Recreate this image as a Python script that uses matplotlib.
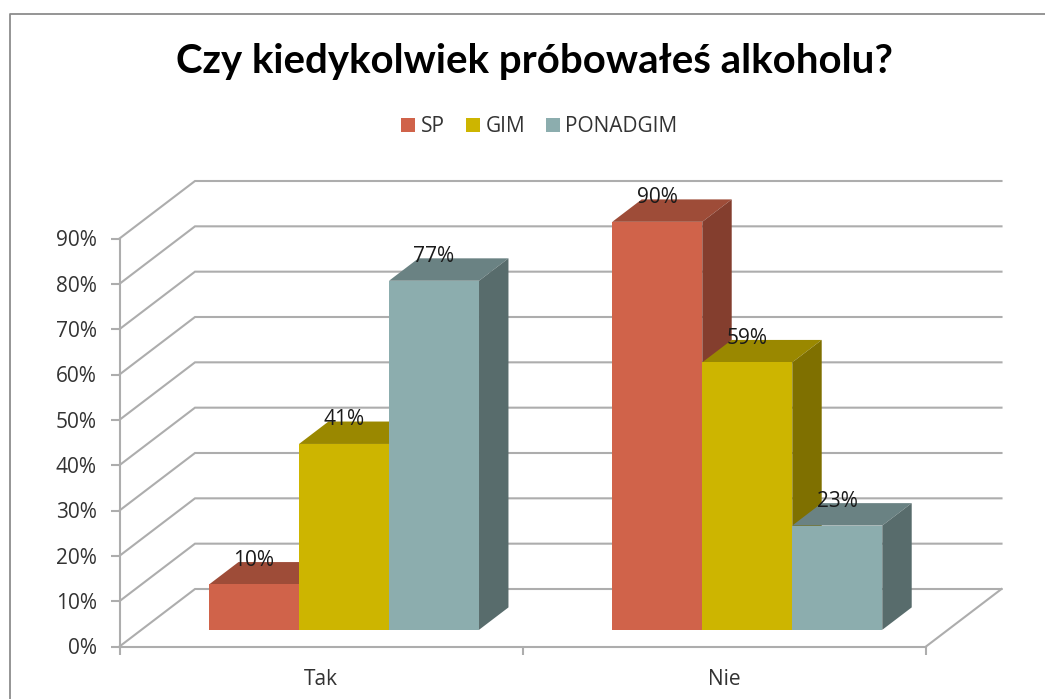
import matplotlib
matplotlib.use('Agg')
import matplotlib.pyplot as plt
from matplotlib.patches import Patch, Polygon

# Data
categories = ['Tak', 'Nie']
series = ['SP', 'GIM', 'PONADGIM']
sp = [10, 90]
gim = [41, 59]
ponadgim = [77, 23]
y_ticks = [0, 10, 20, 30, 40, 50, 60, 70, 80, 90]

front_colors = ['#D0634A', '#CDB500', '#8CADAE']
top_colors = ['#9E4C38', '#9A8800', '#6A8283']
side_colors = ['#843E2E', '#7F7000', '#586C6C']

W, H = 1045, 699
plt.rcParams['font.family'] = ['Open Sans', 'DejaVu Sans']

fig = plt.figure(figsize=(W / 100, H / 100), dpi=100)
# axes box is the front plane of the 3d chart
ax = fig.add_axes([119.5 / W, 1 - 646.5 / H, 806.5 / W, 408 / H])
ax.set_xlim(0, 2)
ax.set_ylim(0, 90)
ax.patch.set_visible(False)

px_x = 2 / 806.5
px_y = 90 / 408
depth_x = 75.5 * px_x
depth_y = 57.5 * px_y
bar_w = 90 * px_x
bar_start = 0.29
bar_depth = 0.39
grid_color = '#ADADAD'

# back wall gridlines and the side wall
for v in y_ticks:
    ax.plot([0, depth_x, 2 + depth_x], [v, v + depth_y, v + depth_y],
            color=grid_color, lw=1.5, clip_on=False, zorder=1, solid_joinstyle='miter')
ax.plot([2 + depth_x, 2], [depth_y, 0], color=grid_color, lw=1.5, clip_on=False, zorder=1)


def draw_bar(x0, value, i):
    x = x0 + bar_start * depth_x
    base = bar_start * depth_y
    top = base + value
    dx = bar_depth * depth_x
    dy = bar_depth * depth_y
    ax.add_patch(Polygon([(x, top), (x + bar_w, top), (x + bar_w + dx, top + dy), (x + dx, top + dy)],
                         fc=top_colors[i], ec='none', clip_on=False, zorder=3))
    ax.add_patch(Polygon([(x + bar_w, base), (x + bar_w + dx, base + dy), (x + bar_w + dx, top + dy), (x + bar_w, top)],
                         fc=side_colors[i], ec='none', clip_on=False, zorder=3))
    ax.add_patch(Polygon([(x, base), (x + bar_w, base), (x + bar_w, top), (x, top)],
                         fc=front_colors[i], ec='none', clip_on=False, zorder=3))


values = [sp, gim, ponadgim]
for c in range(len(categories)):
    for i in range(len(series)):
        x0 = c + 0.5 - 1.5 * bar_w + i * bar_w + 1 * px_x
        draw_bar(x0, values[i][c], i)
        ax.text(x0 + bar_start * depth_x + bar_w / 2, bar_start * depth_y + values[i][c] + 24 * px_y,
                f'{values[i][c]}%', ha='center', va='center', fontsize=15, color='#1A1A1A', zorder=5)

# axes
for s in ['top', 'right']:
    ax.spines[s].set_visible(False)
for s in ['left', 'bottom']:
    ax.spines[s].set_color(grid_color)
    ax.spines[s].set_linewidth(1.5)
    ax.spines[s].set_zorder(2)
ax.set_yticks(y_ticks)
ax.set_yticklabels([f'{v}%' for v in y_ticks], fontsize=15, color='#333333')
ax.set_xticks([0, 1, 2])
ax.set_xticklabels([])
ax.set_xticks([0.5, 1.5], minor=True)
ax.set_xticklabels(categories, minor=True, fontsize=15, color='#333333')
ax.tick_params(axis='y', length=6.5, width=1.5, color=grid_color, pad=10)
ax.tick_params(axis='x', which='major', length=6, width=1.5, color=grid_color)
ax.tick_params(axis='x', which='minor', length=0, pad=16)

# chart frame
fig.add_artist(plt.Line2D([9.5 / W, 9.5 / W, 1], [0, 1 - 13.5 / H, 1 - 13.5 / H],
                          color='#8C8C8C', lw=1.3))

fig.text(534.5 / W, 1 - 61 / H, 'Czy kiedykolwiek próbowałeś alkoholu?', family=['Lato', 'DejaVu Sans'],
         fontsize=28.9, fontweight='bold', ha='center', va='center', color='black')

handles = [Patch(fc=c, ec='none') for c in front_colors]
fig.legend(handles, series, loc='center', bbox_to_anchor=(539.5 / W, 1 - 127 / H), ncol=3, frameon=False,
           fontsize=15, handlelength=0.67, handleheight=0.67, handletextpad=0.27, columnspacing=1.0, labelcolor='#333333')

plt.savefig('out.png', dpi=100)
